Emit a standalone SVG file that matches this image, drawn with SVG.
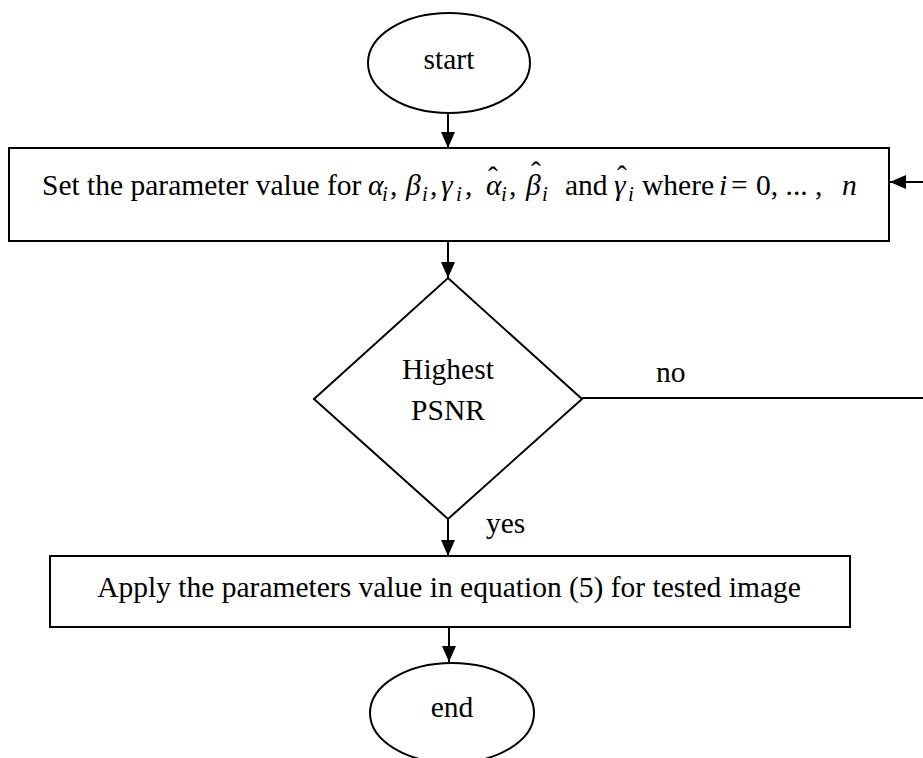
<svg xmlns="http://www.w3.org/2000/svg" width="923" height="758" viewBox="0 0 923 758">
<style>
.shape{fill:#fff;stroke:#000;stroke-width:2}
.line{fill:none;stroke:#000;stroke-width:2}
.t{font-family:"Liberation Serif","Times New Roman",serif;font-size:29.5px;fill:#000}
.m{font-style:italic}
.s{font-style:italic;font-size:21px}
.mid{text-anchor:middle}
</style>
<defs>
<marker id="arr" markerWidth="16" markerHeight="14" refX="16" refY="7" orient="auto" markerUnits="userSpaceOnUse">
<path d="M0,0 L16,7 L0,14 Z" fill="#000"/>
</marker>
</defs>
<rect width="923" height="758" fill="#fff"/>
<g id="connectors">
<line class="line" x1="448" y1="113" x2="448" y2="148" marker-end="url(#arr)"/>
<line class="line" x1="923" y1="182" x2="890" y2="182" marker-end="url(#arr)"/>
<line class="line" x1="448" y1="241" x2="448" y2="278" marker-end="url(#arr)"/>
<line class="line" x1="582" y1="398" x2="923" y2="398"/>
<line class="line" x1="448" y1="519" x2="448" y2="556" marker-end="url(#arr)"/>
<line class="line" x1="449" y1="627" x2="449" y2="662" marker-end="url(#arr)"/>
<text class="t" x="656" y="382">no</text>
<text class="t" x="486" y="533">yes</text>
</g>
<g id="start">
<ellipse class="shape" cx="449" cy="63" rx="81" ry="50"/>
<text class="t mid" x="449" y="69">start</text>
</g>
<g id="setParams">
<rect class="shape" x="9" y="148" width="880" height="93"/>
<text class="t"><tspan x="42" y="195">Set the parameter value for</tspan><tspan class="m" x="368" y="195">α</tspan><tspan class="s" x="382" y="201">i</tspan><tspan x="390" y="195">,</tspan><tspan class="m" x="406" y="195">β</tspan><tspan class="s" x="422" y="201">i</tspan><tspan x="430" y="195">,</tspan><tspan class="m" x="441" y="195">γ</tspan><tspan class="s" x="456" y="201">i</tspan><tspan x="465" y="195">,</tspan><tspan class="m" x="486" y="195">α</tspan><tspan x="488" y="187">ˆ</tspan><tspan class="s" x="501" y="201">i</tspan><tspan x="509" y="195">,</tspan><tspan class="m" x="526" y="195">β</tspan><tspan x="531" y="182">ˆ</tspan><tspan class="s" x="542" y="201">i</tspan><tspan x="565" y="195">and</tspan><tspan class="m" x="614" y="195">γ</tspan><tspan x="617" y="186">ˆ</tspan><tspan class="s" x="628" y="201">i</tspan><tspan x="642" y="195">where</tspan><tspan class="m" x="719" y="195">i</tspan><tspan x="731" y="195">=</tspan><tspan x="756" y="195">0, ... ,</tspan><tspan class="m" x="842" y="195">n</tspan></text>
</g>
<g id="decision">
<polygon class="shape" points="448,278 582,399 448,519 314,399"/>
<text class="t mid" x="448" y="379">Highest</text>
<text class="t mid" x="448" y="420">PSNR</text>
</g>
<g id="apply">
<rect class="shape" x="50" y="556" width="800" height="71"/>
<text class="t mid" x="449" y="597">Apply the parameters value in equation (5) for tested image</text>
</g>
<g id="end">
<ellipse class="shape" cx="452" cy="713" rx="82" ry="50"/>
<text class="t mid" x="452" y="717">end</text>
</g>
</svg>
